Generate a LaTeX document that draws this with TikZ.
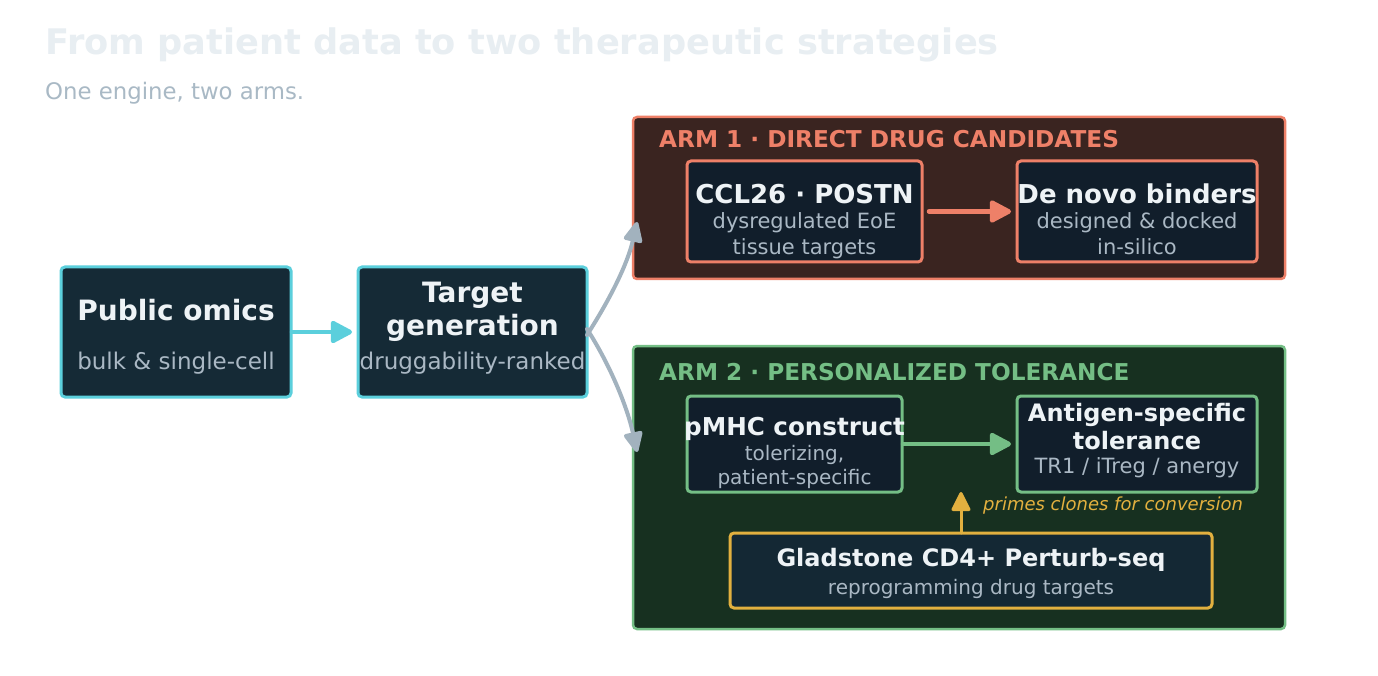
\documentclass[tikz,border=0pt]{standalone}
\usepackage{fontspec}
\setmainfont{DejaVu Sans}
\usetikzlibrary{arrows.meta}
\definecolor{titlec}{HTML}{E8EEF2}
\definecolor{subc}{HTML}{A9B9C5}
\definecolor{cyanc}{HTML}{5BCFDC}
\definecolor{darkone}{HTML}{152A36}
\definecolor{salmon}{HTML}{EE8068}
\definecolor{armonefill}{HTML}{3A2420}
\definecolor{innerfill}{HTML}{111E2B}
\definecolor{greenc}{HTML}{74BE85}
\definecolor{armtwofill}{HTML}{173020}
\definecolor{goldc}{HTML}{E2B03F}
\definecolor{gladfill}{HTML}{142834}
\definecolor{grayc}{HTML}{A2B2BE}
\definecolor{txtw}{HTML}{EEF3F6}
\definecolor{txtg}{HTML}{AAB8C4}
\begin{document}
\begin{tikzpicture}[x=1pt,y=-1pt,
  box/.style={draw, line width=3pt, rounded corners=4pt, inner sep=0pt, outer sep=0pt},
  armbox/.style={draw, line width=2.5pt, rounded corners=4pt, inner sep=0pt, outer sep=0pt},
  hdL/.style={font=\bfseries\fontsize{28}{32}\selectfont, text=txtw, anchor=base, inner sep=0pt},
  hdA/.style={font=\bfseries\fontsize{26}{30}\selectfont, text=txtw, anchor=base, inner sep=0pt},
  hdB/.style={font=\bfseries\fontsize{24}{28}\selectfont, text=txtw, anchor=base, inner sep=0pt},
  sbA/.style={font=\fontsize{23}{27}\selectfont, text=txtg, anchor=base, inner sep=0pt},
  sbB/.style={font=\fontsize{21}{25}\selectfont, text=txtg, anchor=base, inner sep=0pt},
  sbC/.style={font=\fontsize{20}{24}\selectfont, text=txtg, anchor=base, inner sep=0pt},
  armtitle/.style={font=\bfseries\fontsize{23.2}{27}\selectfont, anchor=base west, inner sep=0pt},
  tipbig/.style={line cap=round, -{Triangle[length=24pt,width=24pt,round]}},
  cyanarr/.style={draw=cyanc, line width=4.5pt, tipbig},
  salarr/.style={draw=salmon, line width=4.5pt, tipbig},
  grnarr/.style={draw=greenc, line width=4.5pt, tipbig},
  goldarr/.style={draw=goldc, line width=3pt, line cap=round, -{Triangle[length=21pt,width=20pt,round]}},
  grayarr/.style={draw=grayc, line width=4pt, line cap=round, -{Triangle[length=23pt,width=20pt,round]}}
]
\useasboundingbox[fill=white] (0,0) rectangle (1378,676);

% title
\node[anchor=base west, inner sep=0pt, text=titlec, font=\bfseries\fontsize{35.2}{40}\selectfont] (title) at (45,55) {From patient data to two therapeutic strategies};
\node[anchor=base west, inner sep=0pt, text=subc, font=\fontsize{22.8}{27}\selectfont] (subtitle) at (45,99.5) {One engine, two arms.};

% left boxes
\node[box, draw=cyanc, fill=darkone, minimum width=230pt, minimum height=130pt] (po) at (176,332) {};
\node[hdL] (pot) at (176,320) {Public omics};
\node[sbA] (pos) at (176,369.5) {bulk \& single-cell};

\node[box, draw=cyanc, fill=darkone, minimum width=229pt, minimum height=130pt] (tg) at (472.5,332) {};
\node[hdL] (tgt1) at (472.5,302.5) {Target};
\node[hdL] (tgt2) at (472.5,335.5) {generation};
\node[sbA] (tgs) at (472.5,369.5) {druggability-ranked};

% arm 1
\node[armbox, draw=salmon, fill=armonefill, minimum width=652pt, minimum height=162pt] (arm1) at (959,198) {};
\node[armtitle, text=salmon] (arm1t) at (659,147.5) {ARM 1 · DIRECT DRUG CANDIDATES};
\node[box, draw=salmon, fill=innerfill, minimum width=235pt, minimum height=101pt] (ccl) at (804.5,211.5) {};
\node[hdA] (cclt) at (804.5,203.5) {CCL26 · POSTN};
\node[sbB] (ccls1) at (804.5,229) {dysregulated EoE};
\node[sbB] (ccls2) at (804.5,254.5) {tissue targets};
\node[box, draw=salmon, fill=innerfill, minimum width=240pt, minimum height=101pt] (dn) at (1137,211.5) {};
\node[hdA] (dnt) at (1137,203.5) {De novo binders};
\node[sbB] (dns1) at (1137,229) {designed \& docked};
\node[sbB] (dns2) at (1137,254.5) {in-silico};

% arm 2
\node[armbox, draw=greenc, fill=armtwofill, minimum width=652pt, minimum height=283pt] (arm2) at (959,487.5) {};
\node[armtitle, text=greenc] (arm2t) at (659,380.5) {ARM 2 · PERSONALIZED TOLERANCE};
\node[box, draw=greenc, fill=innerfill, minimum width=215pt, minimum height=96pt] (pm) at (794.5,444) {};
\node[hdB, font=\bfseries\fontsize{24.6}{28}\selectfont] (pmt) at (794.5,435.5) {pMHC construct};
\node[sbC] (pms1) at (794.5,460.5) {tolerizing,};
\node[sbC] (pms2) at (794.5,484.5) {patient-specific};
\node[box, draw=greenc, fill=innerfill, minimum width=240pt, minimum height=96pt] (ag) at (1137,444) {};
\node[hdB] (agt1) at (1137,421.5) {Antigen-specific};
\node[hdB] (agt2) at (1137,449.5) {tolerance};
\node[sbB] (ags) at (1137,473.5) {TR1 / iTreg / anergy};
\node[box, draw=goldc, fill=gladfill, minimum width=482pt, minimum height=75pt] (gl) at (971,570.5) {};
\node[hdB] (glt) at (971,566) {Gladstone CD4+ Perturb-seq};
\node[sbC] (gls) at (971,594.5) {reprogramming drug targets};
\node[anchor=base west, inner sep=0pt, text=goldc, font=\itshape\fontsize{18}{22}\selectfont] (prime) at (983,510) {primes clones for conversion};

% connectors
\coordinate (gtip) at (961,492);
\coordinate (a1in) at (637,222);
\coordinate (a2in) at (637,452);
\draw[cyanarr, shorten <=1pt, shorten >=6pt] (po.east) -- (tg.west);
\draw[salarr, shorten <=7pt, shorten >=6pt] (ccl.east) -- (dn.west);
\draw[grnarr, shorten <=1pt, shorten >=6pt] (pm.east) -- (ag.west);
\draw[goldarr] (gl.north -| gtip) -- (gtip);
\draw[grayarr] ([yshift=-3pt]tg.east) .. controls (612,296) and (628,262) .. (a1in);
\draw[grayarr] ([yshift=3pt]tg.east) .. controls (612,368) and (628,410) .. (a2in);
\end{tikzpicture}
\end{document}
